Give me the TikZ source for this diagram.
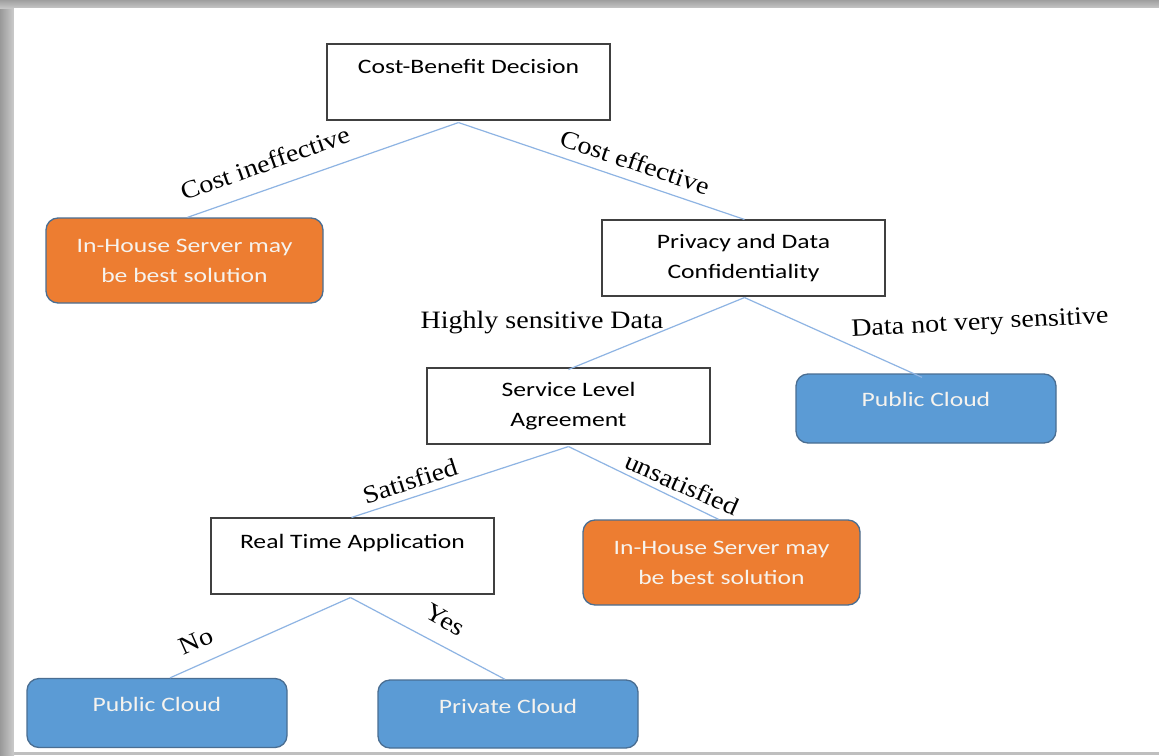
\documentclass[tikz,border=0pt]{standalone}
\usepackage{fontspec}
\newfontfamily\boxfont[FakeStretch=1.25]{Carlito}
\newfontfamily\lblfont[FakeStretch=1.12]{Liberation Serif}

\definecolor{edgeblue}{HTML}{8EB4E3}
\definecolor{officeorange}{HTML}{ED7D31}
\definecolor{officeblue}{HTML}{5B9BD5}
\definecolor{slateborder}{HTML}{4A6E92}
\definecolor{paletext}{HTML}{F6F3EE}

\tikzset{
  testbox/.style = {
    rectangle,                      % plain question box
    draw          = black!75,       % border
    line width    = 1.1pt,          % border width
    minimum width = 283pt,          %
    minimum height= 76pt,           %
    inner sep     = 1pt,            % sep b/w border and inner text
    font          = \boxfont\fontsize{20.5}{30}\selectfont,
    text          = black,          % inner label color
    fill          = white,
    align         = center,
  },
  endbox/.style = {
    rectangle,
    rounded corners = 12pt,
    draw          = slateborder,
    line width    = 1.3pt,
    minimum width = 260pt,
    minimum height= 69pt,
    inner sep     = 1pt,
    font          = \boxfont\fontsize{20.5}{30}\selectfont,
    text          = paletext,
    align         = center,
  },
  orangebox/.style = {endbox, fill = officeorange, minimum width = 277pt, minimum height = 85pt},
  bluebox/.style   = {endbox, fill = officeblue},
  textup/.style    = {text height = 15pt, text depth = #1},   % lifts a single line
  branch/.style    = {draw = edgeblue, line width = 1.2pt},
  branchlbl/.style = {font = \lblfont\fontsize{25}{28}\selectfont, text = black, inner sep = 0pt},
}

\begin{document}
\begin{tikzpicture}[x=1pt, y=-1pt]
\useasboundingbox (0, 0) rectangle (1159, 755);

% shadowed frame
\fill[gray!50] (0, 0) rectangle (1159, 755);
\shade[left color = gray!80, right color = gray!40] (0, 0) rectangle (14, 755);
\shade[top color = gray!75, bottom color = gray!45] (0, 0) rectangle (1159, 8);
\fill[white] (14, 8) rectangle (1159, 752);

% boxes
\node at (468.5, 82)  [testbox, textup = 32pt] (cbd)      {Cost-Benefit Decision};
\node at (184.5, 260.5) [orangebox]            (inhouseA) {In-House Server may\\be best solution};
\node at (743.5, 258) [testbox]                (privacy)  {Privacy and Data\\Confidentiality};
\node at (568.5, 406) [testbox]                (sla)      {Service Level\\Agreement};
\node at (926, 408.5) [bluebox, textup = 19pt] (publicA)  {Public Cloud};
\node at (352.5, 556) [testbox, textup = 30pt] (rta)      {Real Time Application};
\node at (721.5, 562.5) [orangebox]            (inhouseB) {In-House Server may\\be best solution};
\node at (157, 713)   [bluebox, textup = 18pt] (publicB)  {Public Cloud};
\node at (508, 714)   [bluebox, minimum height = 68pt, textup = 16pt] (privateB) {Private Cloud};

% branches
\draw[branch] ([xshift = -10pt, yshift = -2pt]cbd.south) -- ([xshift = 3pt]inhouseA.north);
\draw[branch] ([xshift = -10pt, yshift = -2pt]cbd.south) -- ([xshift = 1pt]privacy.north);
\draw[branch] ([xshift = 1pt, yshift = -1pt]privacy.south) -- ([yshift = -2pt]sla.north);
\draw[branch] ([xshift = 1pt, yshift = -1pt]privacy.south) -- ([xshift = -4pt, yshift = -4pt]publicA.north);
\draw[branch] ([yshift = -2pt]sla.south) -- ([xshift = -1pt]rta.north);
\draw[branch] ([yshift = -2pt]sla.south) -- ([xshift = -3pt]inhouseB.north);
\draw[branch] ([xshift = -2pt, yshift = -3pt]rta.south) -- ([xshift = 13pt]publicB.north);
\draw[branch] ([xshift = -2pt, yshift = -3pt]rta.south) -- ([xshift = -3pt]privateB.north);

% branch labels
\node at (265, 163) [branchlbl, rotate = 19.5]  (lblCostIn)   {Cost ineffective};
\node at (635, 162) [branchlbl, rotate = -18.5] (lblCostEff)  {Cost effective};
\node at (542, 323) [branchlbl]                 (lblHigh)     {Highly sensitive Data};
\node at (980, 324) [branchlbl, rotate = 3]     (lblNotSens)  {Data not very sensitive};
\node at (410, 481) [branchlbl, rotate = 18]    (lblSat)      {Satisfied};
\node at (682, 484) [branchlbl, rotate = -24]   (lblUnsat)    {unsatisfied};
\node at (196, 641) [branchlbl, rotate = 24]    (lblNo)       {No};
\node at (445, 620) [branchlbl, rotate = -30]   (lblYes)      {Yes};
\end{tikzpicture}
\end{document}
